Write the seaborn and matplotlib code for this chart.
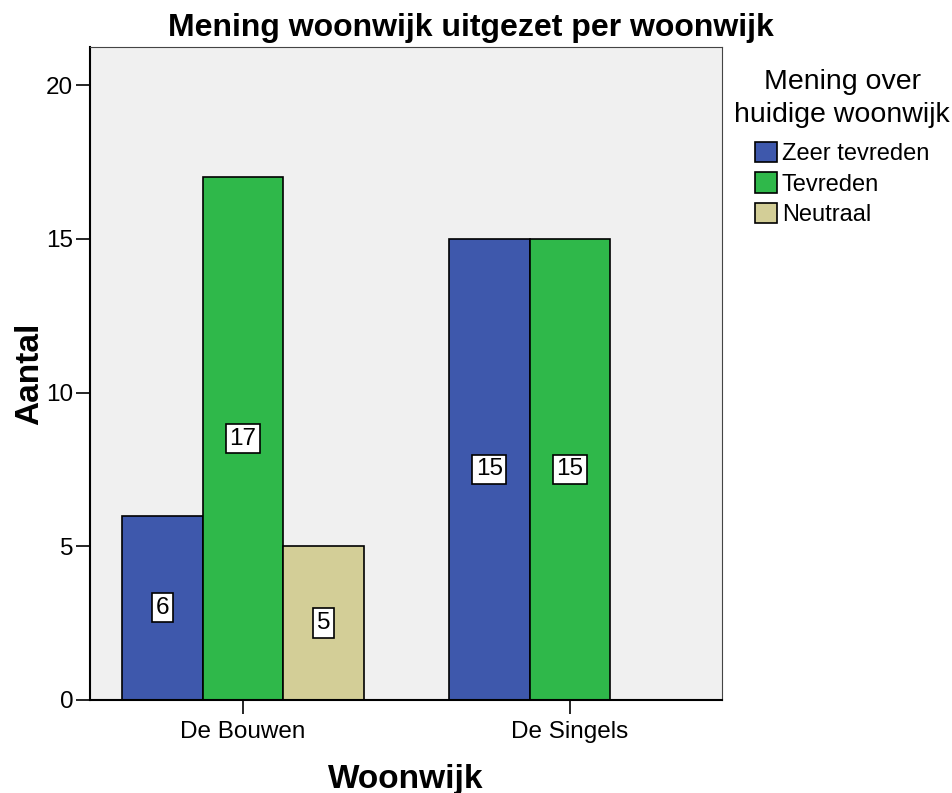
import pandas as pd
import seaborn as sns
import matplotlib.pyplot as plt

woonwijken = ['De Bouwen', 'De Bouwen', 'De Bouwen', 'De Singels', 'De Singels', 'De Singels']
meningen = ['Zeer tevreden', 'Tevreden', 'Neutraal', 'Zeer tevreden', 'Tevreden', 'Neutraal']
aantallen = [6, 17, 5, 15, 15, 0]

kleuren = ['#3e58ac', '#2fb84a', '#d3ce97']
mening_volgorde = ['Zeer tevreden', 'Tevreden', 'Neutraal']

df = pd.DataFrame({'woonwijk': woonwijken, 'mening': meningen, 'aantal': aantallen})

sns.set_style('white')
plt.rcParams['font.family'] = ['Liberation Sans', 'DejaVu Sans']
plt.rcParams['text.color'] = 'black'
plt.rcParams['axes.labelcolor'] = 'black'

fig = plt.figure(figsize=(9.53, 7.93), dpi=100)
ax = fig.add_axes([0.0944, 0.1173, 0.6632, 0.8234])
ax.set_facecolor('#f0f0f0')

sns.barplot(data=df, x='woonwijk', y='aantal', hue='mening', hue_order=mening_volgorde,
            palette=kleuren, width=0.74, edgecolor='black', linewidth=1.2,
            saturation=1, ax=ax, legend=True)

# waardelabels in witte kaders, midden in de staaf
for bars in ax.containers:
    for bar in bars:
        h = bar.get_height()
        if h > 0:
            ax.text(bar.get_x() + bar.get_width() / 2, h / 2, f'{int(h)}',
                    ha='center', va='center', fontsize=17.5,
                    bbox=dict(boxstyle='square,pad=0.15', fc='white', ec='black', lw=1.2))

ax.set_xlim(-0.468, 1.465)
ax.set_ylim(0, 21.24)
ax.set_yticks([0, 5, 10, 15, 20])
ax.tick_params(axis='both', direction='out', length=10, width=1.2, colors='black',
               labelsize=17.5, left=True, bottom=True, pad=2)
ax.tick_params(axis='x', pad=5)

for side in ['left', 'bottom']:
    ax.spines[side].set_color('black')
    ax.spines[side].set_linewidth(1.5)
for side in ['top', 'right']:
    ax.spines[side].set_color('#444444')
    ax.spines[side].set_linewidth(0.8)

ax.set_xlabel('Woonwijk', fontsize=24, fontweight='bold', labelpad=15)
ax.set_ylabel('Aantal', fontsize=24, fontweight='bold', labelpad=0.5)
# titel staat gecentreerd boven de hele figuur
fig.text(0.4937, 1 - 36 / 793, 'Mening woonwijk uitgezet per woonwijk',
         ha='center', va='baseline', fontsize=23, fontweight='bold')

leg = ax.legend(title='Mening over\nhuidige woonwijk', loc='upper center',
                bbox_to_anchor=(0.8836, 0.913), bbox_transform=fig.transFigure,
                frameon=False, fontsize=17, title_fontsize=20.5,
                handlelength=0.95, handleheight=0.95, handletextpad=0.2, labelspacing=0.3,
                borderaxespad=0, borderpad=0)
leg._legend_box.align = 'center'
leg._legend_box.sep = 10
leg.get_title().set_ha('center')
leg.get_title().set_linespacing(1.35)

fig.savefig('out.png', dpi=100)
